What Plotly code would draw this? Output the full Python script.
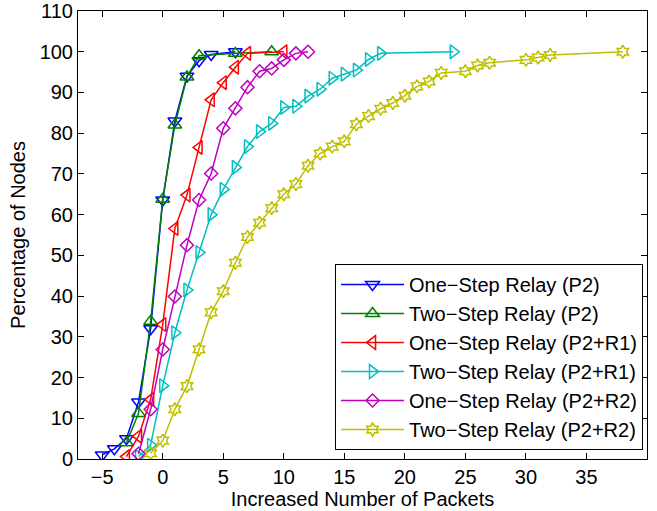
import plotly.graph_objects as go

# Increase in number of packets (x) vs cumulative percentage of nodes (y)
x_one_p2 = [-5, -4, -3, -2, -1, 0, 1, 2, 3, 4, 6]
y_one_p2 = [1, 2.5, 5, 14, 32, 63.6, 83, 94, 97.8, 99.3, 100]

x_two_p2 = [-3, -2, -1, 0, 1, 2, 3, 6, 9]
y_two_p2 = [4, 11.2, 33.8, 63.8, 82, 93.8, 99, 99.6, 100]

x_one_r1 = [-3, -2, -1, 0, 1, 2, 3, 4, 5, 6, 7, 10]
y_one_r1 = [0.6, 5.6, 14.6, 33, 56.6, 64.8, 76.5, 88.2, 92.4, 96.2, 99.6, 100]

x_two_r1 = [-2, -1, 0, 1, 2, 3, 4, 5, 6, 7, 8, 9, 10, 11, 12, 13, 14, 15, 16, 17, 18, 24]
y_two_r1 = [0.6, 3.4, 18, 31, 41.5, 50.7, 60, 66.2, 71.6, 76.7, 80.4, 82.4,
            86.3, 86.6, 89.1, 90.8, 93.5, 94.5, 95.5, 98.1, 99.6, 100]

x_one_r2 = [-2, -1, 0, 1, 2, 3, 4, 5, 6, 7, 8, 9, 10, 11, 12]
y_one_r2 = [1.3, 12.2, 26.9, 39.9, 52.5, 63.6, 70.1, 81.2, 86.1, 91.3, 95.2, 95.9, 98, 99.6, 100]

x_two_r2 = [-1, 0, 1, 2, 3, 4, 5, 6, 7, 8, 9, 10, 11, 12, 13, 14, 15, 16, 17, 18,
            19, 20, 21, 22, 23, 25, 26, 27, 30, 31, 32, 38]
y_two_r2 = [1.4, 4.5, 12.2, 17.9, 26.9, 36, 41.2, 48.2, 54.5, 58, 61.6, 65, 67.5, 72,
            75, 76.7, 78, 82.2, 84.2, 86, 87.4, 89.2, 91.5, 92.7, 94.8, 95.2, 96.6,
            97.3, 98, 98.6, 99.2, 100]

x_ticks = [-5, 0, 5, 10, 15, 20, 25, 30, 35, 40]
y_ticks = list(range(0, 111, 10))

series = [
    ("One\u2212Step Relay (P2)", x_one_p2, y_one_p2, "#0000ff", "triangle-down-open", 12),
    ("Two\u2212Step Relay (P2)", x_two_p2, y_two_p2, "#008000", "triangle-up-open", 12),
    ("One\u2212Step Relay (P2+R1)", x_one_r1, y_one_r1, "#ff0000", "triangle-left-open", 12),
    ("Two\u2212Step Relay (P2+R1)", x_two_r1, y_two_r1, "#00bfbf", "triangle-right-open", 12),
    ("One\u2212Step Relay (P2+R2)", x_one_r2, y_one_r2, "#bf00bf", "diamond-open", 10),
    ("Two\u2212Step Relay (P2+R2)", x_two_r2, y_two_r2, "#bfbf00", "hexagram-open", 10),
]

fig = go.Figure()
for name, xs, ys, color, symbol, size in series:
    fig.add_trace(go.Scatter(
        x=xs, y=ys, name=name, mode="lines+markers",
        line=dict(color=color, width=1.5),
        marker=dict(symbol=symbol, size=size, color=color,
                    line=dict(color=color, width=1.5)),
    ))

font = "Liberation Sans, Arial, Helvetica, sans-serif"
axis_common = dict(
    showline=True, linecolor="black", linewidth=1, mirror="allticks",
    ticks="inside", ticklen=6, tickcolor="black", tickwidth=1,
    showgrid=False, zeroline=False, automargin=False,
    tickfont=dict(family=font, size=20, color="black"),
)

fig.update_layout(
    width=657, height=511,
    margin=dict(l=78, r=10, t=11, b=52),
    paper_bgcolor="white", plot_bgcolor="white",
    font=dict(family=font, size=20, color="black"),
    xaxis=dict(range=[-7, 40], tickvals=x_ticks,
               title=dict(text="Increased Number of Packets", standoff=2,
                          font=dict(family=font, size=20)),
               **axis_common),
    yaxis=dict(range=[0, 110], tickvals=y_ticks,
               title=dict(text="Percentage of Nodes", standoff=8,
                          font=dict(family=font, size=20)),
               **axis_common),
    legend=dict(x=0.993, y=0.02, xanchor="right", yanchor="bottom",
                bgcolor="white", bordercolor="black", borderwidth=1,
                font=dict(family=font, size=20, color="black"),
                itemwidth=63, tracegroupgap=0),
    showlegend=True,
)

fig.write_html("out.html")
